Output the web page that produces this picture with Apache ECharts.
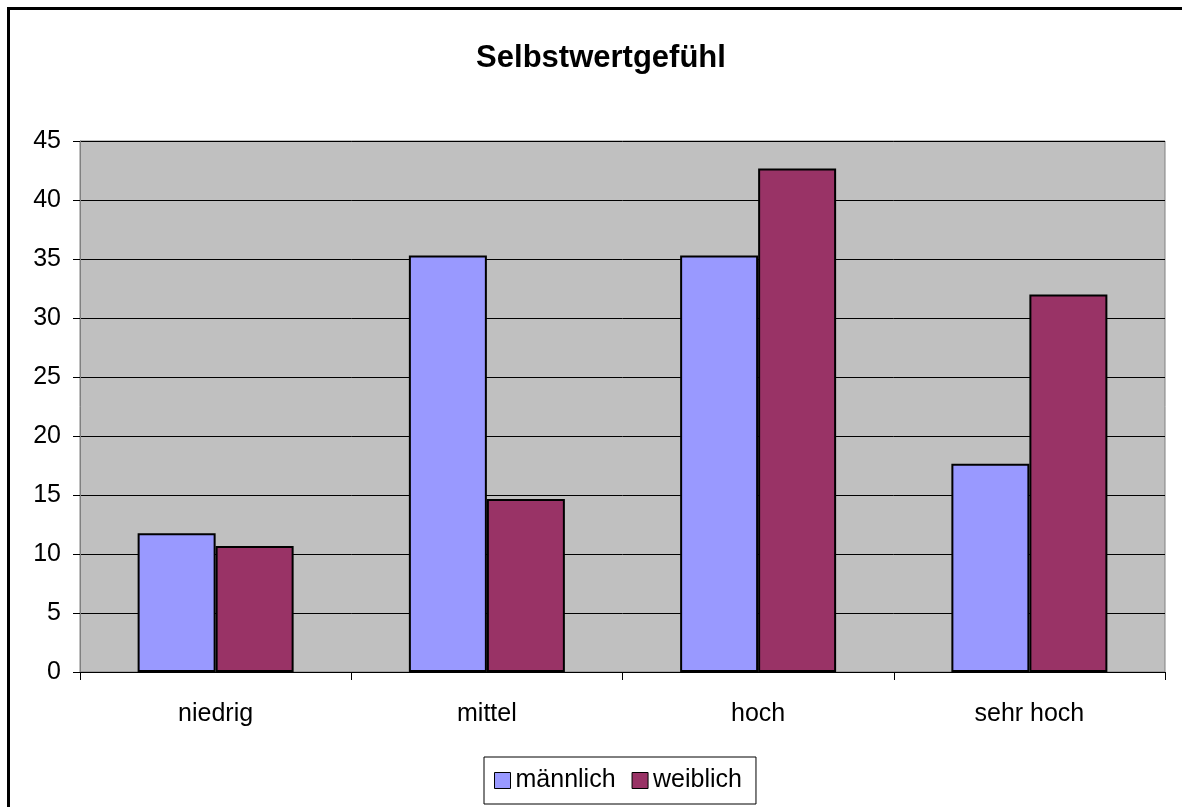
<!DOCTYPE html>
<html>
<head>
<meta charset="utf-8">
<script src="https://cdn.jsdelivr.net/npm/echarts@6/dist/echarts.min.js"></script>
<style>
  html, body { margin: 0; padding: 0; background: #fff; }
  #chart { width: 1182px; height: 807px; }
</style>
</head>
<body>
<div id="chart"></div>
<script>
const categories = ['niedrig', 'mittel', 'hoch', 'sehr hoch'];
const maennlich = [11.76, 35.29, 35.29, 17.65];
const weiblich = [10.67, 14.67, 42.67, 32.0];

const font = 'Arial, "Liberation Sans", sans-serif';

const myChart = echarts.init(document.getElementById('chart'));

const option = {
  backgroundColor: '#ffffff',
  animation: false,
  graphic: [
    {
      // outer frame, right and bottom edges lie outside the picture
      type: 'rect',
      shape: { x: 8.5, y: 8.5, width: 1300, height: 900 },
      style: { fill: 'none', stroke: '#000', lineWidth: 3 },
      silent: true
    }
  ],
  title: {
    text: 'Selbstwertgefühl',
    left: 596,
    top: 38,
    textAlign: 'center',
    textStyle: { fontFamily: font, fontSize: 31, fontWeight: 'bold', color: '#000' }
  },
  legend: {
    bottom: 3,
    left: 484,
    itemWidth: 16,
    itemHeight: 16,
    itemGap: 16,
    padding: [11, 14, 11, 10],
    borderColor: '#000',
    borderWidth: 1,
    icon: 'rect',
    itemStyle: { borderColor: '#000', borderWidth: 1 },
    textStyle: { fontFamily: font, fontSize: 25, color: '#000' },
    data: ['männlich', 'weiblich']
  },
  grid: {
    left: 80,
    right: 17,
    top: 141,
    bottom: 135,
    outerBoundsMode: 'none',
    show: true,
    backgroundColor: '#c0c0c0',
    borderColor: '#808080',
    borderWidth: 1
  },
  xAxis: {
    type: 'category',
    data: categories,
    axisLine: { lineStyle: { color: '#000', width: 1 } },
    axisTick: { show: true, length: 8, lineStyle: { color: '#000' } },
    axisLabel: { fontFamily: font, fontSize: 25, color: '#000', margin: 30 }
  },
  yAxis: {
    type: 'value',
    min: 0,
    max: 45,
    interval: 5,
    axisLine: { show: true, lineStyle: { color: '#808080', width: 1 } },
    axisTick: { show: true, length: 7, lineStyle: { color: '#000' } },
    axisLabel: { fontFamily: font, fontSize: 25, color: '#000', margin: 19 },
    splitLine: { show: true, lineStyle: { color: '#000', width: 1 } }
  },
  series: [
    {
      name: 'männlich',
      type: 'bar',
      data: maennlich,
      barWidth: 78,
      barGap: '0%',
      itemStyle: { color: '#9999ff', borderColor: '#000', borderWidth: 2 }
    },
    {
      name: 'weiblich',
      type: 'bar',
      data: weiblich,
      barWidth: 78,
      itemStyle: { color: '#993366', borderColor: '#000', borderWidth: 2 }
    }
  ]
};

myChart.setOption(option);
</script>
</body>
</html>
